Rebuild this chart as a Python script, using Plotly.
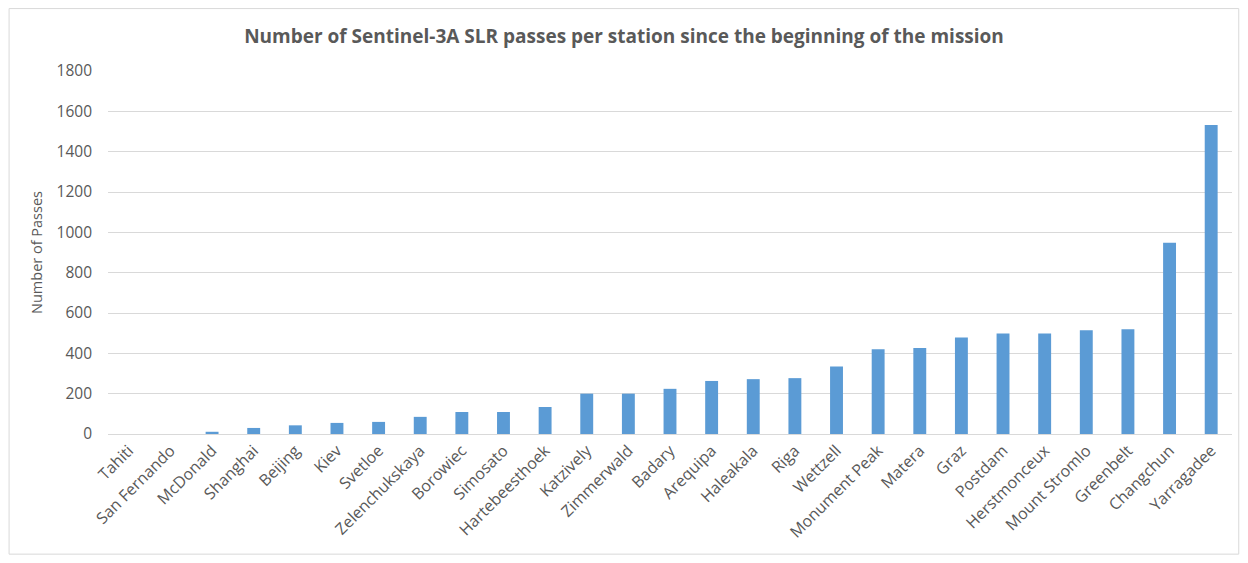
import plotly.graph_objects as go

stations = ["Tahiti", "San Fernando", "McDonald", "Shanghai", "Beijing", "Kiev", "Svetloe",
            "Zelenchukskaya", "Borowiec", "Simosato", "Hartebeesthoek", "Katzively", "Zimmerwald",
            "Badary", "Arequipa", "Haleakala", "Riga", "Wettzell", "Monument Peak", "Matera",
            "Graz", "Postdam", "Herstmonceux", "Mount Stromlo", "Greenbelt", "Changchun", "Yarragadee"]
passes = [0, 0, 11, 30, 43, 55, 60,
          85, 109, 109, 134, 200, 200,
          224, 263, 272, 277, 335, 420, 426,
          478, 498, 498, 514, 520, 948, 1532]

fig = go.Figure(go.Bar(
    x=stations, y=passes,
    marker=dict(color="#5B9BD5", line=dict(color="#5B9BD5", width=0)),
))

fig.update_layout(
    width=1232, height=547,
    paper_bgcolor="white", plot_bgcolor="white",
    margin=dict(l=100, r=8, t=63, b=121),
    bargap=0.69,
    showlegend=False,
    title=dict(text="<b>Number of Sentinel-3A SLR passes per station since the beginning of the mission</b>",
               x=0.5, xanchor="center", xref="container", y=0.949, yanchor="middle",
               font=dict(family="Liberation Sans Narrow, Arial Narrow, Open Sans", size=19, color="#595959")),
    font=dict(family="Open Sans, DejaVu Sans", color="#595959"),
    shapes=[dict(type="rect", xref="paper", yref="paper", x0=-0.088, x1=1.006, y0=-0.331, y1=1.172,
                 line=dict(color="#d9d9d9", width=1), fillcolor="rgba(0,0,0,0)", layer="below")],
)
fig.update_xaxes(tickangle=-45, tickfont=dict(size=16, color="#595959"), showgrid=False,
                 showline=True, linecolor="#d9d9d9", linewidth=1, ticks="")
fig.update_yaxes(range=[0, 1800], dtick=200, showgrid=True, gridcolor="#d9d9d9", gridwidth=1,
                 zeroline=False, tickfont=dict(size=15.5, color="#595959"), ticklabelstandoff=15,
                 title=dict(text="Number of Passes", font=dict(size=14.5, color="#595959"), standoff=10),
                 ticks="", ticklen=0)

fig.write_html("out.html")
